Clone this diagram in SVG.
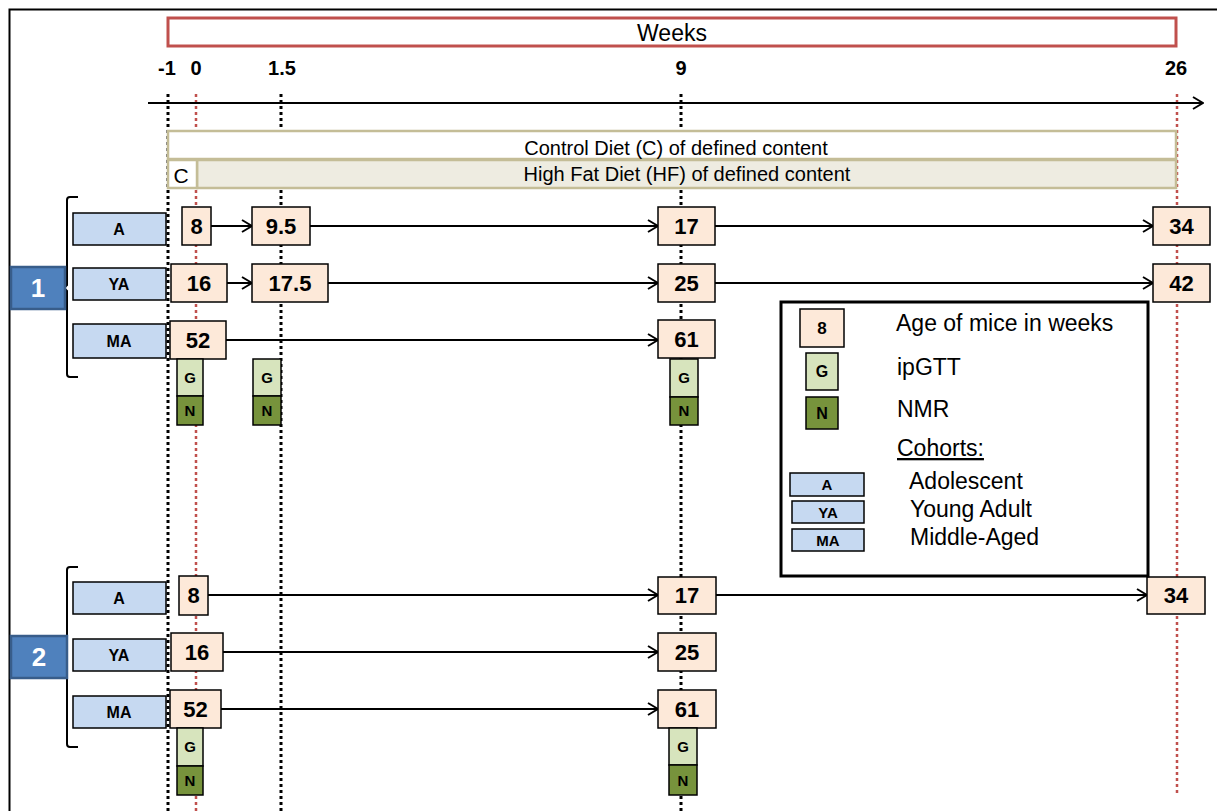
<svg xmlns="http://www.w3.org/2000/svg" width="1217" height="811" viewBox="0 0 1217 811">
<style>
text{font-family:"Liberation Sans",Arial,sans-serif;fill:#000}
.age rect{fill:#fde9d9;stroke:#000;stroke-width:1.5}
.age text{font-size:22px;font-weight:bold;text-anchor:middle}
.coh rect{fill:#c6d9f1;stroke:#000;stroke-width:1.5}
.coh text{font-size:16px;font-weight:bold;text-anchor:middle}
.g rect{fill:#d7e4bd;stroke:#000;stroke-width:1.5}
.n rect{fill:#77933c;stroke:#000;stroke-width:1.5}
.g text,.n text{font-size:15px;font-weight:bold;text-anchor:middle}
.num rect{fill:#4f81bd;stroke:#385d8a;stroke-width:2.5}
.num text{font-size:26px;font-weight:bold;fill:#fff;text-anchor:middle}
.dk{stroke:#000;stroke-width:3;stroke-dasharray:3 3;fill:none}
.dr{stroke:#c0504d;stroke-width:2.5;stroke-dasharray:3 3;fill:none}
.arr{stroke:#000;stroke-width:2;fill:none;marker-end:url(#ah)}
.diet{stroke:#c4bd97;stroke-width:2.5}
.tick{font-size:20px;font-weight:bold;text-anchor:middle}
.leg{font-size:23px}
.brk{stroke:#000;stroke-width:2;fill:none}
</style>
<defs>
<marker id="ah" markerWidth="12" markerHeight="14" refX="11" refY="7" orient="auto" markerUnits="userSpaceOnUse">
<path d="M1,1 L11,7 L1,13" fill="none" stroke="#000" stroke-width="2"/>
</marker>
</defs>
<rect x="0" y="0" width="1217" height="811" fill="#fff"/>
<rect x="9.5" y="9.5" width="1230" height="820" fill="none" stroke="#000" stroke-width="2"/>

<g id="weeks">
<rect x="168" y="18" width="1008" height="28" fill="#fff" stroke="#c0504d" stroke-width="3"/>
<text x="672" y="40.5" font-size="23" text-anchor="middle">Weeks</text>
</g>
<g id="ticks">
<text class="tick" x="167" y="75">-1</text>
<text class="tick" x="196" y="75">0</text>
<text class="tick" x="282" y="75">1.5</text>
<text class="tick" x="681" y="75">9</text>
<text class="tick" x="1176" y="75">26</text>
</g>

<g id="gridlines">
<line class="dk" x1="168" y1="94" x2="168" y2="811"/>
<line class="dr" x1="196" y1="94" x2="196" y2="811"/>
<line class="dk" x1="281" y1="94" x2="281" y2="811"/>
<line class="dk" x1="681" y1="94" x2="681" y2="811"/>
<line class="dr" x1="1177" y1="94" x2="1177" y2="793"/>
</g>

<g id="diet">
<rect class="diet" x="168" y="131" width="1008" height="28" fill="#fff"/>
<rect class="diet" x="197" y="160" width="979" height="28" fill="#eeece1"/>
<rect class="diet" x="168" y="160" width="29" height="28" fill="#fff"/>
<text x="676" y="154.5" font-size="20" text-anchor="middle">Control Diet (C) of defined content</text>
<text x="687" y="180.5" font-size="20" text-anchor="middle">High Fat Diet (HF) of defined content</text>
<text x="181" y="183" font-size="21" text-anchor="middle">C</text>
</g>

<g id="connectors">
<line class="arr" x1="148" y1="103" x2="1203" y2="103"/>
<line class="arr" x1="211" y1="226" x2="252" y2="226"/>
<line class="arr" x1="310" y1="226" x2="658" y2="226"/>
<line class="arr" x1="715" y1="226" x2="1153" y2="226"/>
<line class="arr" x1="227" y1="283" x2="252" y2="283"/>
<line class="arr" x1="328" y1="283" x2="658" y2="283"/>
<line class="arr" x1="715" y1="283" x2="1153" y2="283"/>
<line class="arr" x1="226" y1="340" x2="658" y2="340"/>
<line class="arr" x1="208" y1="595" x2="658" y2="595"/>
<line class="arr" x1="716" y1="595" x2="1147" y2="595"/>
<line class="arr" x1="223" y1="652" x2="658" y2="652"/>
<line class="arr" x1="221" y1="709" x2="658" y2="709"/>
</g>

<g id="group1">
<path class="brk" d="M78,197 H70 Q67,197 67,200 V285 L64,288 L67,291 V374 Q67,377 70,377 H78"/>
<g id="num1" class="num"><rect x="11" y="267" width="54" height="42"/><text x="38" y="297">1</text></g>
<g id="g1A" class="coh"><rect x="73" y="213" width="93" height="32"/><text x="119" y="235">A</text></g>
<g id="g1YA" class="coh"><rect x="73" y="268" width="93" height="32"/><text x="119" y="290">YA</text></g>
<g id="g1MA" class="coh"><rect x="73" y="324" width="93" height="34"/><text x="119" y="347">MA</text></g>
<g id="g1a8" class="age"><rect x="182" y="207" width="29" height="38"/><text x="196.5" y="234">8</text></g>
<g id="g1a95" class="age"><rect x="252" y="207" width="58" height="38"/><text x="281" y="234">9.5</text></g>
<g id="g1a17" class="age"><rect x="658" y="207" width="57" height="38"/><text x="686.5" y="234">17</text></g>
<g id="g1a34" class="age"><rect x="1153" y="207" width="57" height="38"/><text x="1181.5" y="234">34</text></g>
<g id="g1a16" class="age"><rect x="171" y="264" width="56" height="38"/><text x="199" y="291">16</text></g>
<g id="g1a175" class="age"><rect x="252" y="264" width="76" height="38"/><text x="290" y="291">17.5</text></g>
<g id="g1a25" class="age"><rect x="658" y="264" width="57" height="38"/><text x="686.5" y="291">25</text></g>
<g id="g1a42" class="age"><rect x="1153" y="264" width="57" height="38"/><text x="1181.5" y="291">42</text></g>
<g id="g1a52" class="age"><rect x="170" y="321" width="56" height="38"/><text x="198" y="348">52</text></g>
<g id="g1a61" class="age"><rect x="658" y="320" width="57" height="38"/><text x="686.5" y="347">61</text></g>
<g id="g1G0" class="g"><rect x="177" y="359" width="26" height="37"/><text x="190" y="383">G</text></g>
<g id="g1N0" class="n"><rect x="177" y="396" width="26" height="29"/><text x="190" y="416">N</text></g>
<g id="g1G15" class="g"><rect x="253" y="359" width="28" height="37"/><text x="267" y="383">G</text></g>
<g id="g1N15" class="n"><rect x="253" y="396" width="28" height="29"/><text x="267" y="416">N</text></g>
<g id="g1G9" class="g"><rect x="670" y="359" width="28" height="38"/><text x="684" y="383">G</text></g>
<g id="g1N9" class="n"><rect x="670" y="397" width="28" height="28"/><text x="684" y="416">N</text></g>
</g>

<g id="group2">
<path class="brk" d="M78,567 H70 Q67,567 67,570 V654 L64,657 L67,660 V744 Q67,747 70,747 H78"/>
<g id="num2" class="num"><rect x="11" y="636" width="56" height="42"/><text x="39" y="666">2</text></g>
<g id="g2A" class="coh"><rect x="73" y="582" width="93" height="32"/><text x="119" y="604">A</text></g>
<g id="g2YA" class="coh"><rect x="73" y="639" width="93" height="32"/><text x="119" y="661">YA</text></g>
<g id="g2MA" class="coh"><rect x="73" y="696" width="93" height="32"/><text x="119" y="718">MA</text></g>
<g id="g2a8" class="age"><rect x="179" y="576" width="29" height="39"/><text x="193.5" y="603">8</text></g>
<g id="g2a17" class="age"><rect x="658" y="577" width="58" height="37"/><text x="687" y="603">17</text></g>
<g id="g2a34" class="age"><rect x="1147" y="577" width="58" height="37"/><text x="1176" y="603">34</text></g>
<g id="g2a16" class="age"><rect x="171" y="633" width="52" height="38"/><text x="197" y="660">16</text></g>
<g id="g2a25" class="age"><rect x="658" y="633" width="58" height="38"/><text x="687" y="660">25</text></g>
<g id="g2a52" class="age"><rect x="170" y="690" width="51" height="38"/><text x="195.5" y="717">52</text></g>
<g id="g2a61" class="age"><rect x="658" y="690" width="58" height="38"/><text x="687" y="717">61</text></g>
<g id="g2G0" class="g"><rect x="177" y="728" width="26" height="38"/><text x="190" y="752">G</text></g>
<g id="g2N0" class="n"><rect x="177" y="766" width="26" height="29"/><text x="190" y="786">N</text></g>
<g id="g2G9" class="g"><rect x="669" y="728" width="28" height="37"/><text x="683" y="752">G</text></g>
<g id="g2N9" class="n"><rect x="669" y="765" width="28" height="30"/><text x="683" y="786">N</text></g>
</g>

<g id="legend">
<rect x="781" y="302" width="367" height="274" fill="#fff" stroke="#000" stroke-width="3"/>
<g class="age"><rect x="800" y="309" width="44" height="38"/><text x="822" y="334" style="font-size:17px">8</text></g>
<g class="g"><rect x="806" y="353" width="32" height="37"/><text x="822" y="377" style="font-size:16px">G</text></g>
<g class="n"><rect x="806" y="397" width="32" height="32"/><text x="822" y="419" style="font-size:16px">N</text></g>
<text class="leg" x="896" y="331">Age of mice in weeks</text>
<text class="leg" x="897" y="375">ipGTT</text>
<text class="leg" x="897" y="417">NMR</text>
<text class="leg" x="897" y="456" text-decoration="underline">Cohorts:</text>
<g class="coh"><rect x="790" y="473" width="74" height="23"/><text x="827" y="490" style="font-size:15px">A</text></g>
<g class="coh"><rect x="792" y="501" width="72" height="22"/><text x="828" y="518" style="font-size:15px">YA</text></g>
<g class="coh"><rect x="792" y="529" width="72" height="22"/><text x="828" y="546" style="font-size:15px">MA</text></g>
<text class="leg" x="909" y="489">Adolescent</text>
<text class="leg" x="910" y="517">Young Adult</text>
<text class="leg" x="910" y="545">Middle-Aged</text>
</g>
</svg>
